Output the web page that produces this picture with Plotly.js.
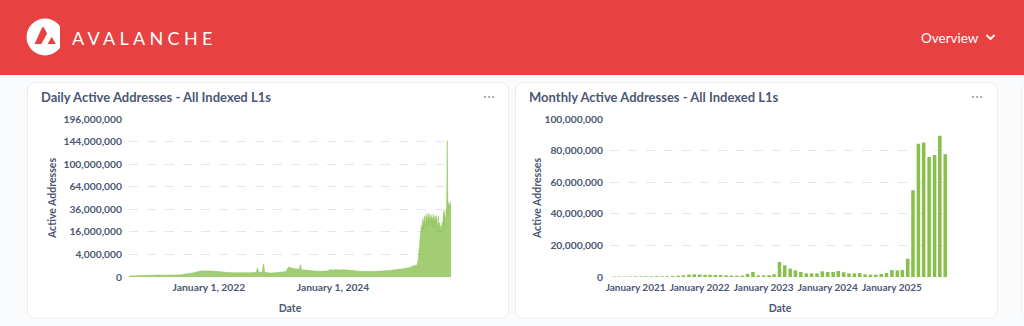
<!DOCTYPE html>
<html><head><meta charset="utf-8">
<script src="https://cdn.plot.ly/plotly-3.0.1.min.js"></script>
<style>
html,body{margin:0;padding:0;width:1024px;height:326px;overflow:hidden;background:#fafbfc;font-family:Lato,sans-serif;}
#hdr{position:absolute;left:0;top:0;width:1024px;height:75px;background:#e84142;}
#brand{position:absolute;left:72px;top:26px;color:#fff;font-size:18px;letter-spacing:4.3px;font-weight:400;line-height:24px;}
#nav{position:absolute;left:921px;top:29px;color:#fff;font-size:13.5px;font-weight:400;line-height:18px;}
.card{position:absolute;top:82px;height:237px;background:#fff;border:1px solid #ebedf0;border-radius:8px;box-sizing:border-box;}
.ctitle{position:absolute;top:6px;color:#4c5773;font-size:13px;font-weight:700;white-space:nowrap;}
.dots{position:absolute;top:4px;color:#a0a6b2;font-size:14px;letter-spacing:0.5px;}
.plot{position:absolute;left:0;top:0;}
</style></head><body>
<div id="hdr">
<svg width="60" height="75" style="position:absolute;left:0;top:0">
<circle cx="45" cy="37" r="18.5" fill="#fff"/>
<path d="M34.5,44 L42,27.8 Q43,26 44,27.8 L46.6,32.6 Q47.1,33.6 46.6,34.6 L41.6,43.4 Q41.2,44 40.5,44 Z" fill="#e84142"/>
<path d="M47.6,44 L51.2,37.6 Q51.7,36.9 52.2,37.6 L55.8,44 Z" fill="#e84142"/>
</svg>
<div id="brand">AVALANCHE</div>
<div id="nav">Overview</div>
<svg width="12" height="10" style="position:absolute;left:985px;top:33px"><path d="M2,2.5 L5.5,6 L9,2.5" stroke="#fff" stroke-width="1.8" fill="none" stroke-linecap="round" stroke-linejoin="round"/></svg>
</div>
<div class="card" style="left:27px;width:482px">
  <div id="p1" class="plot"></div>
  <div class="ctitle" style="left:13px">Daily Active Addresses - All Indexed L1s</div>
  <div class="dots" style="left:455px">···</div>
</div>
<div class="card" style="left:515px;width:483px">
  <div id="p2" class="plot"></div>
  <div class="ctitle" style="left:13px">Monthly Active Addresses - All Indexed L1s</div>
  <div class="dots" style="left:455px">···</div>
</div>
<div class="card" style="left:1021px;width:40px"></div>
<script>
// ---- Daily active addresses (weekly readings, thousands) from 2020-09-18 ----
const dailyStartA = '2020-09-18';
const dailyStepA = 7;
const dailyValuesA_k = [
 8,9,
 10,11,10,12,11, 12,13,12,14, 15,14,16,15,
 18,20,22,21,24, 30,35,28,26, 25,28,30,27, 26,28,30,29,27, 32,35,30,28, 26,25,27,28,
 30,32,35,38,40, 55,70,80,85, 90,95,100,110,120, 150,180,210,240, 270,290,300,285, 290,300,280,295,285,
 300,290,280,275, 270,265,260,250, 240,230,220,210,200, 180,160,150,145, 140,150,145,140, 135,140,130,138,140,
 135,140,145,140, 140,150,145,148, 150,145,150,155,160, 170,680,180,175, 170,180,1380,190, 160,140,130,125,120,
 120,125,130,128, 130,135,140,150, 160,180,200,220,260, 500,780,720,650, 600,560,540,520,500, 480,460,1180,420,
 400,380,370,360, 340,330,320,310,300, 280,270,260,255, 250,245,260,255,250, 260,270,280,300, 380,420,400,360,
 380,420,400,440,410, 390,380,400,370, 420,400,380,390, 360,350,340,330,320, 300,290,280,270, 270,260,265,255,
 250,245,240,250,245, 240,230,235,240, 245,250,240,255, 250,260,255,265,260, 280,300,320,310, 330,400,360,380,
 420,450,480,520,500, 480,500,520,540, 560,600,650,700, 800,950,1000,1100,1050, 1150
];
// ---- Daily active addresses (every 2 days, millions) from 2025-05-11 ----
const dailyStartB = '2025-05-11';
const dailyStepB = 2;
const dailyValuesB_m = [
 1.3,1.5,2.0,3.0,4.3,5.0,8.0,12,15,17,19,
 18,21,16,24,19,27,22,18,25,20,29,23,26,21,30,
 31,25,28,22,30,26,32,24,29,21,27,31,23,26,28,
 24,30,22,27,20,25,31,23,28,19,26,29,22,27,24,30,
 28,22,26,18,24,29,20,15,23,17,19,14,21,16,18,
 19,24,17,28,21,33,26,35,22,30,18,34,27,36,30,
 83,146,61,45,38,42,36,40,37,44,39,41,38
];
const dailyTickVals = [0,4e6,16e6,36e6,64e6,100e6,144e6,196e6];
const dailyXTicks = ['2022-01-01','2024-01-01'];
const dailyXTickText = ['January 1, 2022','January 1, 2024'];

// ---- Monthly active addresses (millions), Sep 2020 .. Nov 2025 ----
const monthlyStart = [2020, 9];
const monthlyValues_m = [
 0.3,0.3,0.3,0.35,
 0.4,0.4,0.45,0.45,0.5,0.5,0.5,0.6,0.8,1.1,1.5,1.7,
 1.6,1.4,1.4,1.3,1.2,1.0,0.9,0.9,0.9,2.0,3.2,1.0,
 1.0,1.2,1.7,9.5,7.4,5.3,4.2,3.2,2.3,2.3,2.3,3.6,
 3.2,3.2,3.8,3.0,2.3,2.3,2.5,1.7,1.5,1.5,1.9,2.5,
 4.4,4.2,4.4,11.6,54.9,84.4,85.2,76.0,77.2,89.4,77.7
];
const monthlyXTicks = ['2021-01-01','2022-01-01','2023-01-01','2024-01-01','2025-01-01'];
const monthlyXTickText = ['January 2021','January 2022','January 2023','January 2024','January 2025'];

function addDays(s, n){const d=new Date(s+'T00:00:00Z');d.setUTCDate(d.getUTCDate()+n);return d.toISOString().slice(0,10);}
const dx=[], dy=[];
dailyValuesA_k.forEach((v,i)=>{dx.push(addDays(dailyStartA,i*dailyStepA));dy.push(v*1e3);});
dailyValuesB_m.forEach((v,i)=>{dx.push(addDays(dailyStartB,i*dailyStepB));dy.push(v*1e6);});
const fmt = n => n.toLocaleString('en-US');

const GREEN='#88bf4d', TXT='#4c5773', GRID='#e3e5ea';
const tickFont={family:'Lato',size:10.3,color:TXT,weight:700};
const xTickFont={family:'Lato',size:10,color:TXT,weight:700};
const titleFont={family:'Lato',size:10.5,color:TXT,weight:700};

Plotly.newPlot('p1',[{
  type:'scatter',mode:'lines',x:dx,y:dy.map(Math.sqrt),fill:'tozeroy',
  line:{color:'rgba(136,191,77,0.8)',width:0.6},fillcolor:'rgba(136,191,77,0.78)',hoverinfo:'skip'
}],{
  width:480,height:236,margin:{l:101,r:57,t:36,b:42},
  paper_bgcolor:'rgba(0,0,0,0)',plot_bgcolor:'rgba(0,0,0,0)',showlegend:false,
  xaxis:{type:'date',tickvals:dailyXTicks,ticktext:dailyXTickText,tickfont:tickFont,showgrid:false,zeroline:false,showline:false,ticks:'',
    tickangle:0,ticklabelstandoff:3,title:{text:'Date',font:titleFont,standoff:12}},
  yaxis:{range:[0,Math.sqrt(196e6)],tickvals:dailyTickVals.map(Math.sqrt),ticktext:dailyTickVals.map(fmt),tickfont:tickFont,
    gridcolor:GRID,griddash:'dash',zeroline:false,ticks:'',ticklabelstandoff:6,
    title:{text:'Active Addresses',font:titleFont,standoff:4}}
},{staticPlot:true,displayModeBar:false});

const mx=monthlyValues_m.map((v,i)=>{const m=monthlyStart[1]-1+i;const y=monthlyStart[0]+Math.floor(m/12);return y+'-'+String(m%12+1).padStart(2,'0')+'-01';});
Plotly.newPlot('p2',[{
  type:'bar',x:mx,y:monthlyValues_m.map(v=>v*1e6),marker:{color:GREEN},hoverinfo:'skip'
}],{
  width:481,height:236,margin:{l:94,r:47,t:36,b:42},bargap:0.28,
  paper_bgcolor:'rgba(0,0,0,0)',plot_bgcolor:'rgba(0,0,0,0)',showlegend:false,
  xaxis:{type:'date',range:['2020-08-08','2025-11-28'],tickvals:monthlyXTicks,ticktext:monthlyXTickText,tickfont:xTickFont,showgrid:false,zeroline:false,ticks:'',
    tickangle:0,ticklabelstandoff:3,title:{text:'Date',font:titleFont,standoff:12}},
  yaxis:{range:[0,100e6],dtick:20e6,tickformat:',d',tickfont:tickFont,gridcolor:GRID,griddash:'dash',zeroline:false,ticks:'',ticklabelstandoff:6,
    title:{text:'Active Addresses',font:titleFont,standoff:0}}
},{staticPlot:true,displayModeBar:false});
</script>
</body></html>
